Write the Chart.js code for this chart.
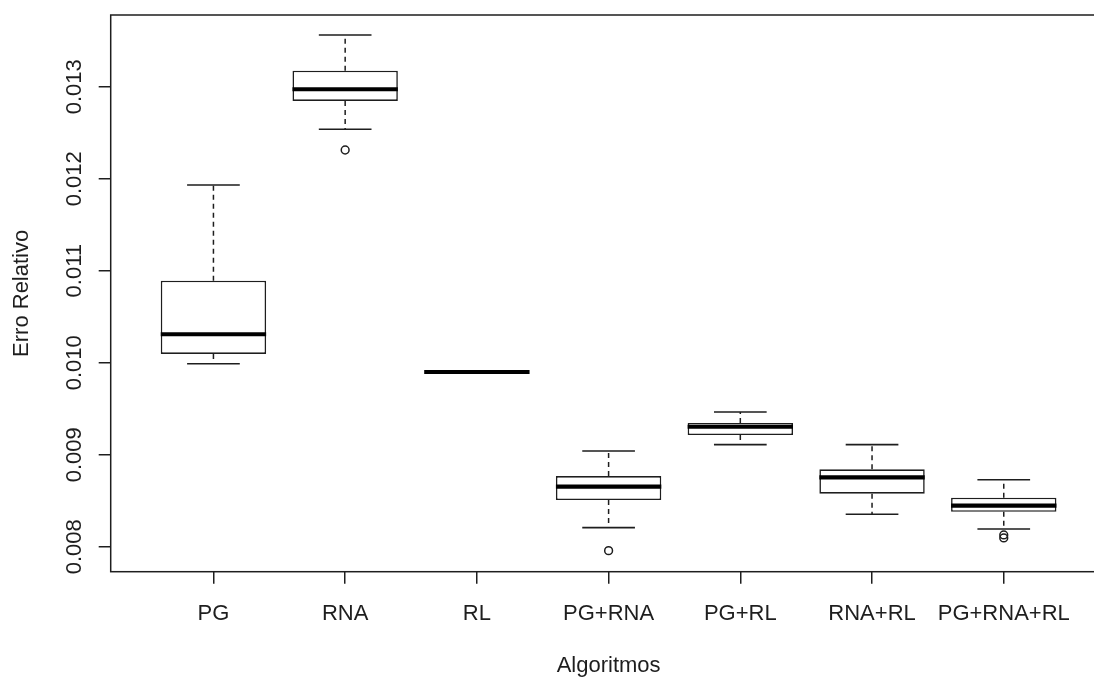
<!DOCTYPE html>
<html><head><meta charset="utf-8">
<script src="https://cdn.jsdelivr.net/npm/chart.js@4.4.0/dist/chart.umd.min.js"></script>
<style>
html,body{margin:0;padding:0;overflow:hidden;background:#fff;width:1094px;height:679px;}
#wrap{position:relative;width:1112px;height:679px;}
canvas{display:block;}
</style></head><body>
<div id="wrap"><canvas id="c" width="1112" height="679" style="width:1112px;height:679px;"></canvas></div>
<script>
// ---- data ----
const categories = ['PG','RNA','RL','PG+RNA','PG+RL','RNA+RL','PG+RNA+RL'];
const whiskerLow  = [0.009989, 0.012537, 0.009899, 0.008207, 0.009109, 0.008352, 0.008192];
const q1          = [0.010095, 0.012845, 0.009899, 0.008507, 0.009214, 0.008576, 0.008380];
const median      = [0.010309, 0.012972, 0.009899, 0.008652, 0.009304, 0.008754, 0.008446];
const q3          = [0.010891, 0.013174, 0.009899, 0.008768, 0.009345, 0.008841, 0.008533];
const whiskerHigh = [0.011932, 0.013562, 0.009899, 0.009040, 0.009464, 0.009109, 0.008728];
const outlierCat  = [2, 4, 7, 7];
const outlierVal  = [0.012312, 0.007957, 0.008128, 0.008095];
const yTicks      = [0.008, 0.009, 0.010, 0.011, 0.012, 0.013];
const yTickLabels = ['0.008','0.009','0.010','0.011','0.012','0.013'];
const xTitle = 'Algoritmos';
const yTitle = 'Erro Relativo';

const FONT = 'Liberation Sans, Arial, Helvetica, sans-serif';
const INK = '#1e1e1e';

const boxPlugin = {
  id: 'boxExtras',
  afterDatasetsDraw(chart) {
    const xs = chart.scales.x, ys = chart.scales.y, ctx = chart.ctx;
    const unit = xs.getPixelForValue(2) - xs.getPixelForValue(1);
    const boxHalf = unit * 0.4, capHalf = unit * 0.2;
    ctx.save();
    ctx.strokeStyle = INK;
    ctx.lineCap = 'butt';
    for (let i = 0; i < categories.length; i++) {
      const cx = xs.getPixelForValue(i + 1);
      const yWh = ys.getPixelForValue(whiskerHigh[i]);
      const yWl = ys.getPixelForValue(whiskerLow[i]);
      const yQ1 = ys.getPixelForValue(q1[i]);
      const yQ3 = ys.getPixelForValue(q3[i]);
      const yMd = ys.getPixelForValue(median[i]);
      ctx.lineWidth = 1.5;
      ctx.setLineDash([5, 4]);
      ctx.beginPath();
      ctx.moveTo(cx, yQ3); ctx.lineTo(cx, yWh);
      ctx.moveTo(cx, yQ1); ctx.lineTo(cx, yWl);
      ctx.stroke();
      ctx.setLineDash([]);
      ctx.lineWidth = 1.6;
      ctx.beginPath();
      ctx.moveTo(cx - capHalf, yWh); ctx.lineTo(cx + capHalf, yWh);
      ctx.moveTo(cx - capHalf, yWl); ctx.lineTo(cx + capHalf, yWl);
      ctx.stroke();
      ctx.lineWidth = 4.2;
      ctx.strokeStyle = '#000';
      ctx.beginPath();
      ctx.moveTo(cx - boxHalf, yMd); ctx.lineTo(cx + boxHalf, yMd);
      ctx.stroke();
      ctx.strokeStyle = INK;
    }
    ctx.restore();
  },
  afterDraw(chart) {
    const ys = chart.scales.y, ctx = chart.ctx, a = chart.chartArea;
    ctx.save();
    ctx.strokeStyle = INK;
    ctx.lineWidth = 1.5;
    ctx.strokeRect(a.left, a.top, a.right - a.left, a.bottom - a.top);
    ctx.fillStyle = INK;
    ctx.font = '22px ' + FONT;
    ctx.textAlign = 'center';
    ctx.textBaseline = 'middle';
    yTicks.forEach((v, i) => {
      ctx.save();
      ctx.translate(75, ys.getPixelForValue(v));
      ctx.rotate(-Math.PI / 2);
      ctx.fillText(yTickLabels[i], 0, 0);
      ctx.restore();
    });
    ctx.restore();
  }
};

new Chart(document.getElementById('c'), {
  type: 'bar',
  data: {
    datasets: [
      {
        type: 'bar',
        data: categories.map((c, i) => ({ x: i + 1, y: [q1[i], q3[i]] })),
        backgroundColor: '#fff',
        borderColor: INK,
        borderWidth: 1.6,
        borderSkipped: false,
        categoryPercentage: 1,
        barPercentage: 0.8
      },
      {
        type: 'scatter',
        data: outlierCat.map((c, i) => ({ x: c, y: outlierVal[i] })),
        pointRadius: 3.9,
        pointBorderWidth: 1.5,
        pointBackgroundColor: 'rgba(0,0,0,0)',
        pointBorderColor: INK,
        pointStyle: 'circle'
      }
    ]
  },
  options: {
    responsive: false,
    devicePixelRatio: 1,
    animation: false,
    layout: { padding: { top: 15, left: 0, right: 0, bottom: 0 } },
    plugins: { legend: { display: false }, tooltip: { enabled: false } },
    scales: {
      x: {
        type: 'linear',
        offset: false,
        min: 0.22, max: 7.78,
        afterBuildTicks: s => { s.ticks = categories.map((c, i) => ({ value: i + 1 })); },
        afterFit: s => { s.height = 107.3; s.paddingLeft = 0; s.paddingRight = 0; },
        ticks: {
          autoSkip: false, maxRotation: 0, minRotation: 0,
          padding: 17.5,
          color: INK,
          font: { family: FONT, size: 22 },
          callback: v => categories[Math.round(v) - 1]
        },
        grid: { display: true, offset: false, drawOnChartArea: false, drawTicks: true, tickLength: 12, color: INK, lineWidth: 1.5 },
        border: { display: false },
        title: { display: true, text: xTitle, color: INK, font: { family: FONT, size: 22, lineHeight: 1.2 }, padding: { top: 0, bottom: 0.3 } }
      },
      y: {
        type: 'linear',
        min: 0.0077283, max: 0.0137793,
        afterBuildTicks: s => { s.ticks = yTicks.map(v => ({ value: v })); },
        afterFit: s => { s.width = 110.7; s.paddingTop = 0; s.paddingBottom = 0; },
        ticks: { display: false },
        grid: { display: true, drawOnChartArea: false, drawTicks: true, tickLength: 12, color: INK, lineWidth: 1.5 },
        border: { display: false },
        title: { display: true, text: yTitle, color: INK, font: { family: FONT, size: 22, lineHeight: 1.2 }, padding: { top: 9, bottom: 0 } }
      }
    }
  },
  plugins: [boxPlugin]
});
</script>
</body></html>
